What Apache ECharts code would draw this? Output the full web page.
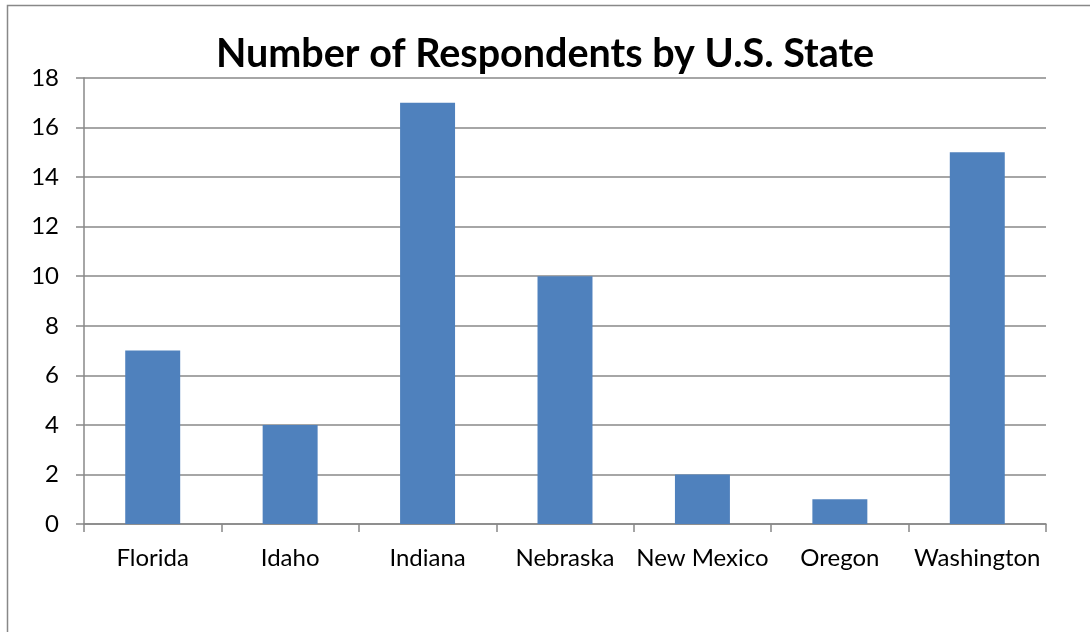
<!DOCTYPE html>
<html><head><meta charset="utf-8">
<script src="https://cdn.jsdelivr.net/npm/echarts@6/dist/echarts.min.js"></script>
<style>html,body{margin:0;padding:0;background:#fff}#c{width:1090px;height:632px}</style>
</head><body><div id="c"></div>
<script>
const categories = ['Florida','Idaho','Indiana','Nebraska','New Mexico','Oregon','Washington'];
const respondents = [7,4,17,10,2,1,15];
const yTicks = {min:0, max:18, interval:2};
const chart = echarts.init(document.getElementById('c'), null, {renderer:'canvas'});
const font = 'Lato, "Open Sans", sans-serif';
chart.setOption({
  animation:false,
  backgroundColor:'#fff',
  graphic:[{type:'rect', shape:{x:7.5,y:5.5,width:1200,height:800}, style:{fill:'none', stroke:'#888', lineWidth:1.5}, silent:true}],
  title:{text:'Number of Respondents by U.S. State', left:'center', top:29,
    textStyle:{fontFamily:font, fontWeight:'bold', fontSize:39.5, color:'#000'}},
  grid:{left:84, right:44, top:78, bottom:108, containLabel:false},
  xAxis:{type:'category', data:categories, boundaryGap:true,
    axisLine:{lineStyle:{color:'#888', width:1.5}},
    axisTick:{show:true, length:8, alignWithLabel:false, lineStyle:{color:'#888', width:1.5}},
    axisLabel:{color:'#000', fontFamily:font, fontSize:24, margin:22, interval:0}},
  yAxis:{type:'value', min:yTicks.min, max:yTicks.max, interval:yTicks.interval,
    axisLine:{show:true, lineStyle:{color:'#888', width:1.5}},
    axisTick:{show:true, length:8, lineStyle:{color:'#888', width:1.5}},
    splitLine:{lineStyle:{color:'#888', width:1.5}},
    axisLabel:{color:'#000', fontFamily:font, fontSize:24, margin:25}},
  series:[{type:'bar', data:respondents, barWidth:'40%', itemStyle:{color:'#4F81BD'}}]
});
</script></body></html>
